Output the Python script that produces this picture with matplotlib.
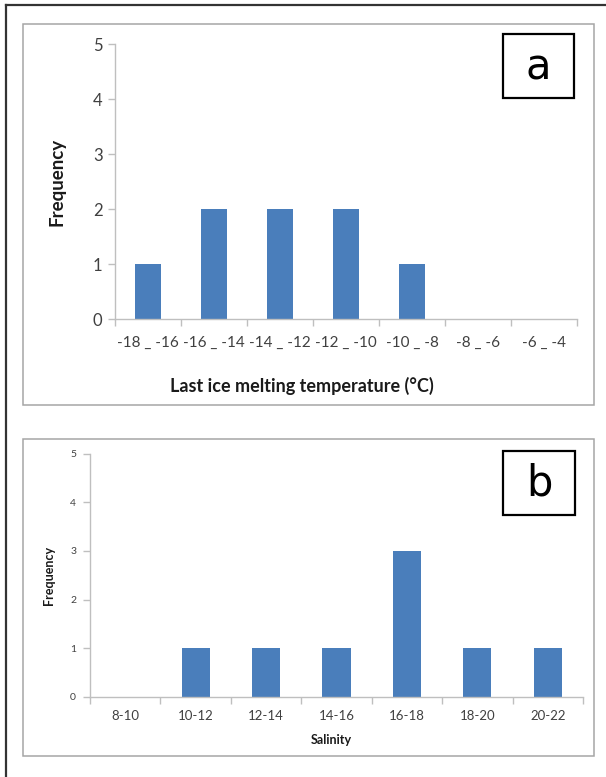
import matplotlib
matplotlib.use("Agg")
import matplotlib.pyplot as plt
from matplotlib.patches import Rectangle
from matplotlib.lines import Line2D

# ---- data ----
temp_bins = ["-18 _ -16", "-16 _ -14", "-14 _ -12", "-12 _ -10", "-10 _ -8", "-8 _ -6", "-6 _ -4"]
temp_freq = [1, 2, 2, 2, 1, 0, 0]
sal_bins = ["8-10", "10-12", "12-14", "14-16", "16-18", "18-20", "20-22"]
sal_freq = [0, 1, 1, 1, 3, 1, 1]
y_ticks = [0, 1, 2, 3, 4, 5]

W, H = 606, 777
BAR = "#4a7ebb"
SPINE = "#bfbfbf"
TXT = "#404040"
FONT = ["Lato", "DejaVu Sans"]
plt.rcParams["font.family"] = FONT

fig = plt.figure(figsize=(W / 100, H / 100), dpi=100)


def fx(x):
    return x / W


def fy(y):
    return 1 - y / H


def rect(x0, y0, x1, y1, color, lw):
    fig.add_artist(Rectangle((fx(x0), fy(y1)), fx(x1) - fx(x0), fy(y0) - fy(y1),
                             transform=fig.transFigure, fill=False, edgecolor=color, linewidth=lw))


# outer frame (left and top only visible)
fig.add_artist(Line2D([fx(6), fx(6)], [fy(4.5), 0], transform=fig.transFigure, color="#333333", lw=1.6))
fig.add_artist(Line2D([fx(6), 1], [fy(4.5), fy(4.5)], transform=fig.transFigure, color="#333333", lw=1.6))

# panel boxes
rect(23, 24, 594, 404.5, "#a6a6a6", 1.1)
rect(23, 439, 594, 756, "#a6a6a6", 1.1)


def make_axes(x0, x1, ytop, ybot, cats, vals, tick_fs, ytick_fs, xlab_pad, ylab_pad):
    ax = fig.add_axes([fx(x0), fy(ybot), fx(x1) - fx(x0), fy(ytop) - fy(ybot)])
    pos = list(range(len(cats)))
    ax.bar(pos, vals, width=0.4, color=BAR)
    ax.set_xlim(-0.5, len(cats) - 0.5)
    ax.set_ylim(0, 5)
    for s in ["top", "right"]:
        ax.spines[s].set_visible(False)
    for s in ["left", "bottom"]:
        ax.spines[s].set_color(SPINE)
        ax.spines[s].set_linewidth(1.0)
    ax.set_yticks(y_ticks)
    ax.set_xticks(pos)
    ax.set_xticklabels(cats)
    ax.set_xticks([p - 0.5 for p in pos] + [len(cats) - 0.5], minor=True)
    ax.tick_params(axis="x", which="major", length=0, pad=xlab_pad, labelsize=tick_fs, labelcolor=TXT)
    ax.tick_params(axis="x", which="minor", length=5, color=SPINE, width=1.0, direction="out")
    ax.tick_params(axis="y", length=5, color=SPINE, width=1.0, pad=ylab_pad, labelsize=ytick_fs,
                   labelcolor=TXT)
    return ax


ax1 = make_axes(115, 577, 44.3, 319.3, temp_bins, temp_freq, 11, 12, 12, 4)
ax1.set_ylabel("Frequency", fontsize=13.5, fontweight="bold", color="#1a1a1a", labelpad=20)
fig.text(fx(301.5), fy(386), "Last ice melting temperature (°C)", ha="center", va="center",
         fontsize=13, fontweight="bold", color="#1a1a1a")

ax2 = make_axes(90, 583, 453.5, 697, sal_bins, sal_freq, 9.5, 7.5, 9, 5)
ax2.set_ylabel("Frequency", fontsize=9, fontweight="bold", color="#1a1a1a", labelpad=11)
fig.text(fx(331), fy(740), "Salinity", ha="center", va="center",
         fontsize=9, fontweight="bold", color="#1a1a1a")

# label boxes
rect(503, 34, 574, 98, "black", 1.6)
fig.text(fx(538.5), fy(67), "a", ha="center", va="center", fontsize=30,
         family=["Liberation Sans Narrow", "DejaVu Sans"], color="black")
rect(503, 451, 575, 515, "black", 1.6)
fig.text(fx(539), fy(484), "b", ha="center", va="center", fontsize=30,
         family=["Liberation Sans Narrow", "DejaVu Sans"], color="black")

fig.savefig("out.png", dpi=100, facecolor="white")
